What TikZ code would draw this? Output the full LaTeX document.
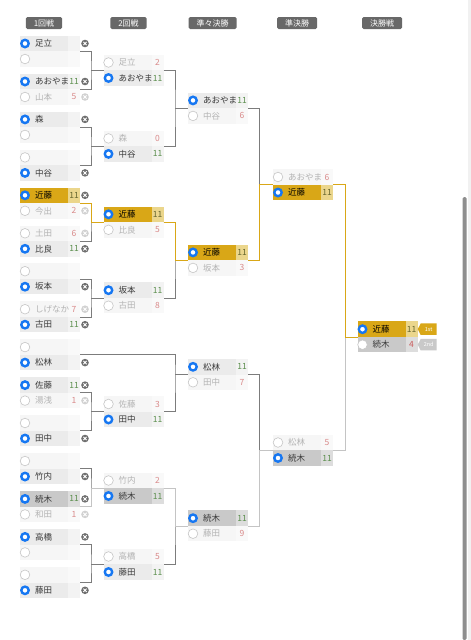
\documentclass[tikz,border=0pt]{standalone}
\usepackage{fontspec}
\setmainfont{Noto Sans CJK JP}
\usetikzlibrary{shapes.symbols}

\definecolor{radioblue}{HTML}{1677F2}
\definecolor{radiogray}{HTML}{C6C6C6}
\definecolor{cellgray}{HTML}{EBEBEB}
\definecolor{cellgraylt}{HTML}{F3F3F3}
\definecolor{cellpale}{HTML}{F6F6F6}
\definecolor{cellpalelt}{HTML}{F9F9F9}
\definecolor{gold}{HTML}{D9A717}
\definecolor{goldlt}{HTML}{EBD68C}
\definecolor{silver}{HTML}{C9C9C9}
\definecolor{silverlt}{HTML}{DDDDDD}
\definecolor{textdark}{HTML}{3A3A3A}
\definecolor{textpale}{HTML}{B3B3B3}
\definecolor{scoregreen}{HTML}{5C8F4E}
\definecolor{scorered}{HTML}{D98A8A}
\definecolor{scoreolive}{HTML}{66662E}
\definecolor{finalred}{HTML}{C95A5A}
\definecolor{crossdark}{HTML}{707070}
\definecolor{crosspale}{HTML}{D2D2D2}
\definecolor{wire}{HTML}{7C7C7C}
\definecolor{silverwire}{HTML}{C4C4C4}
\definecolor{headgray}{HTML}{686868}
\definecolor{scrollgray}{HTML}{8E8E8E}
\definecolor{edgegray}{HTML}{F1F1F1}

\tikzset{
  cellfont/.style={font=\fontsize{8.5}{9}\selectfont},
  head/.style={fill=headgray, text=white, rounded corners=1.5pt, minimum height=12pt,
    inner xsep=8pt, inner ysep=0pt, font=\fontsize{8}{8}\selectfont},
  namebox/.style={anchor=west, minimum width=48pt, minimum height=15.5pt, inner sep=0pt, outer sep=0pt},
  scorebox/.style={anchor=west, minimum width=12pt, minimum height=15.5pt, inner sep=0pt, outer sep=0pt, cellfont},
  nametext/.style={anchor=west, inner sep=0pt, cellfont},
  radio on/.style={circle, draw=radioblue, line width=2.4pt, fill=white, minimum size=7.4pt, inner sep=0pt},
  radio off/.style={circle, draw=radiogray, line width=0.6pt, fill=white, minimum size=9.6pt, inner sep=0pt},
  cross/.style={circle, fill=#1, minimum size=7.6pt, inner sep=0pt,
    path picture={\draw[white, line width=0.9pt]
      ([shift={(-1.6,-1.6)}]path picture bounding box.center) -- ([shift={(1.6,1.6)}]path picture bounding box.center)
      ([shift={(-1.6,1.6)}]path picture bounding box.center) -- ([shift={(1.6,-1.6)}]path picture bounding box.center);}},
  badge/.style={signal, signal to=west, signal pointer angle=125, anchor=west, text=white,
    minimum height=11.5pt, minimum width=19pt, inner xsep=1.5pt, inner ysep=0pt, font=\fontsize{5.5}{6}\selectfont},
  wire/.style={draw=wire, line width=0.9pt},
  goldwire/.style={draw=gold, line width=0.9pt},
  silverpath/.style={draw=silverwire, line width=0.9pt},
  % kinds of rows: w winner, l loser, e empty, g gold, s silver, t runner-up
  nm rw/.style={fill=cellgray}, sc rw/.style={fill=cellgraylt, text=scoregreen},
  tx rw/.style={text=textdark}, rd rw/.style={radio on}, x rw/.style={cross=crossdark},
  nm rl/.style={fill=cellpale}, sc rl/.style={fill=cellpalelt, text=scorered},
  tx rl/.style={text=textpale}, rd rl/.style={radio off}, x rl/.style={cross=crosspale},
  nm re/.style={fill=cellpale}, sc re/.style={fill=cellpalelt},
  tx re/.style={}, rd re/.style={radio off}, x re/.style={inner sep=0pt, minimum size=0pt},
  nm rg/.style={fill=gold}, sc rg/.style={fill=goldlt, text=scoreolive},
  tx rg/.style={text=black}, rd rg/.style={radio on}, x rg/.style={cross=crossdark},
  nm rs/.style={fill=silver}, sc rs/.style={fill=silverlt, text=scoregreen},
  tx rs/.style={text=textdark}, rd rs/.style={radio on}, x rs/.style={cross=crossdark},
  nm rt/.style={fill=silver}, sc rt/.style={fill=silverlt, text=finalred},
  tx rt/.style={text=textdark}, rd rt/.style={radio off},
}

% one column of the bracket: #1 name prefix, #2 left edge, #3 rows y/name/score/kind
\newcommand\bracketcolumn[3]{%
  \foreach \y/\nm/\scr/\k [count=\i] in {#3} {
    \node[namebox, nm \k] (#1\i) at (#2,\y) {};
    \node[scorebox, sc \k] (#1\i-s) at (#1\i.east) {\scr};
    \node[rd \k] (#1\i-r) at ([xshift=5]#1\i.west) {};
    \node[nametext, tx \k] (#1\i-t) at ([xshift=15]#1\i.west) {\nm};
    \ifdim#2pt<50pt
      \node[x \k] (#1\i-x) at ([xshift=5]#1\i-s.east) {};
    \fi
  }%
}

\begin{document}
\begin{tikzpicture}[x=1pt, y=-1pt]
    \useasboundingbox[fill=white] (0,0) rectangle (471,640);

    % page edge and scroll bar
    \fill[edgegray] (467.5,0) rectangle (471,640);
    \fill[scrollgray, rounded corners=1.5pt] (462.5,197) rectangle (466.5,640);

    % headers
    \foreach \xh/\txt [count=\i] in {44/1回戦, 128.5/2回戦, 212.5/準々決勝, 297/準決勝, 382/決勝戦}
        \node[head] (h\i) at (\xh,23) {\txt};

    % rows, round by round
    \bracketcolumn{A}{20}{43.5/足立//rw, 59///re, 81.5/あおやま/11/rw, 97/山本/5/rl,
        119.4/森//rw, 134.9///re, 157.4///re, 172.9/中谷//rw,
        195.3/近藤/11/rg, 210.8/今出/2/rl, 233.3/土田/6/rl, 248.8/比良/11/rw,
        271.2///re, 286.7/坂本//rw, 309.2/しげなか/7/rl, 324.7/古田/11/rw,
        347.1///re, 362.6/松林//rw, 385.1/佐藤/11/rw, 400.6/湯浅/1/rl,
        423///re, 438.5/田中//rw, 461///re, 476.5/竹内//rw,
        498.9/続木/11/rs, 514.4/和田/1/rl, 536.9/高橋//rw, 552.4///re,
        574.8///re, 590.3/藤田//rw}
    \bracketcolumn{B}{103.5}{62.5/足立/2/rl, 78/あおやま/11/rw, 138.4/森/0/rl, 153.9/中谷/11/rw,
        214.3/近藤/11/rg, 229.8/比良/5/rl, 290.2/坂本/11/rw, 305.7/古田/8/rl,
        404/佐藤/3/rl, 419.5/田中/11/rw, 480.5/竹内/2/rl, 496/続木/11/rs,
        556.5/高橋/5/rl, 572/藤田/11/rw}
    \bracketcolumn{C}{188}{100.4/あおやま/11/rw, 115.9/中谷/6/rl, 252.4/近藤/11/rg, 267.9/坂本/3/rl,
        366.8/松林/11/rw, 382.3/田中/7/rl, 518.2/続木/11/rs, 533.7/藤田/9/rl}
    \bracketcolumn{D}{273}{177/あおやま/6/rl, 192.5/近藤/11/rg, 442.5/松林/5/rl, 458/続木/11/rs}
    \bracketcolumn{E}{357.5}{329.2/近藤/11/rg, 344.7/続木/4/rt}

    % places
    \node[badge, fill=gold] (first) at (E1-s.east) {1st};
    \node[badge, fill=silver] (second) at (E2-s.east) {2nd};

    % bracket lines
    \coordinate (v1) at (91,0);
    \coordinate (v2) at (175,0);
    \coordinate (v3) at (259.5,0);
    \coordinate (v4) at (345,0);

    \foreach \pa/\pb/\tg/\vx in {A1/A3/B1/v1, A5/A7/B3/v1, A9/A11/B5/v1, A13/A15/B7/v1,
                                 A19/A21/B9/v1, A23/A25/B11/v1, A27/A29/B13/v1,
                                 B1/B3/C1/v2, B5/B7/C3/v2, A17/B9/C5/v2, B11/B13/C7/v2,
                                 C1/C3/D1/v3, C5/C7/D3/v3, D1/D3/E1/v4}
        \draw[wire] (\pa-s.south east) -| (\tg.south west -| \vx) |- (\pb-s.south east)
                    (\tg.south west -| \vx) -- (\tg.south west);

    % paths of the two finalists
    \foreach \pa/\tg/\vx in {A25/B11/v1, B11/C7/v2, C7/D3/v3, D3/E1/v4}
        \draw[silverpath] (\pa-s.south east) -| (\tg.south west -| \vx) -- (\tg.south west);
    \foreach \pa/\tg/\vx in {A9/B5/v1, B5/C3/v2, C3/D1/v3, D1/E1/v4}
        \draw[goldwire] (\pa-s.south east) -| (\tg.south west -| \vx) -- (\tg.south west);
\end{tikzpicture}
\end{document}
